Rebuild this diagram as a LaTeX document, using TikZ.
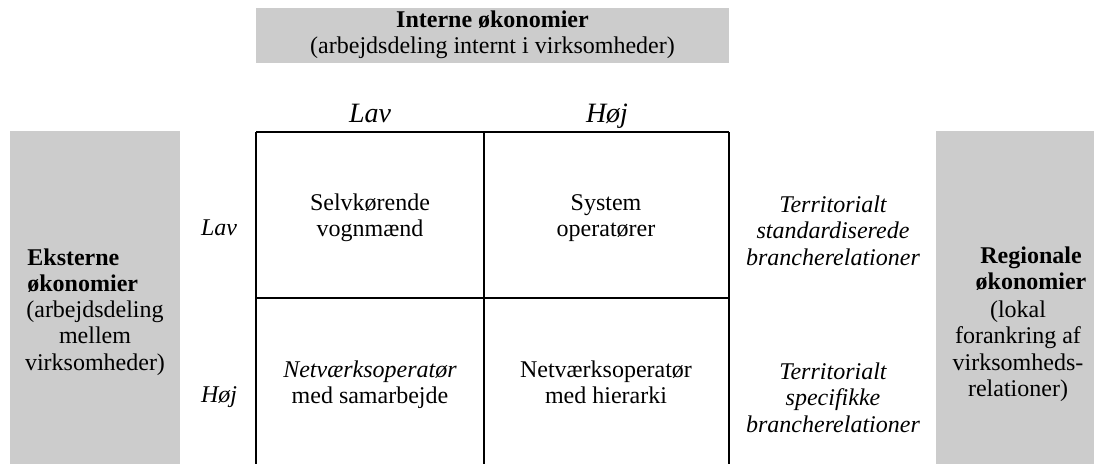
\documentclass[tikz,border=0pt]{standalone}
\usepackage{fontspec}
\setmainfont{Liberation Serif}
\definecolor{panel}{HTML}{CCCCCC}
\begin{document}
\begin{tikzpicture}[x=0.5pt,y=-0.5pt,
  txt/.style={inner sep=0pt, align=center, font=\fontsize{12}{13.2}\selectfont},
  txtl/.style={inner sep=0pt, align=left, font=\fontsize{12}{13.2}\selectfont},
  lbl/.style={inner sep=0pt, anchor=base, font=\fontsize{12}{13.2}\selectfont\itshape},
  head/.style={inner sep=0pt, anchor=base, font=\fontsize{14}{16}\selectfont\itshape},
  gridline/.style={line width=0.55pt, draw=black}]
\useasboundingbox (0,0) rectangle (1094,464);
% gray panels
\fill[panel] (256,8) rectangle (729,63);
\fill[panel] (10,131) rectangle (180,464);
\fill[panel] (936,131) rectangle (1094,464);
% grid
\coordinate (gTL) at (256,132);
\coordinate (gTM) at (484,132);
\coordinate (gTR) at (729,132);
\coordinate (gML) at (256,298);
\coordinate (gMR) at (729,298);
\coordinate (gBL) at (256,464);
\coordinate (gBM) at (484,464);
\coordinate (gBR) at (729,464);
\draw[gridline] (gTL) -- (gTR);
\draw[gridline] (gML) -- (gMR);
\draw[gridline] (gTL) -- (gBL);
\draw[gridline] (gTM) -- (gBM);
\draw[gridline] (gTR) -- (gBR);
% top panel text
\node[txt] (intern) at (492.5,35.5) {\strut\textbf{Interne økonomier}\\\strut(arbejdsdeling internt i virksomheder)};
% column headers
\node[head] (hlav) at (370,123) {Lav};
\node[head] (hhoj) at (607,123) {Høj};
% row labels
\node[lbl] (rlav) at (219,236) {Lav};
\node[lbl] (rhoj) at (219,403) {Høj};
% cells
\node[txt, anchor=north] (c11) at (370,191.5) {\strut Selvkørende\\\strut vognmænd};
\node[txt, anchor=north] (c12) at (606,191.5) {\strut System\\\strut operatører};
\node[txt, anchor=north] (c21) at (370,358.5) {\strut\textit{Netværksoperatør}\\\strut med samarbejde};
\node[txt, anchor=north] (c22) at (606,358.5) {\strut Netværksoperatør\\\strut med hierarki};
% right italic labels
\node[txt, anchor=north, font=\fontsize{12}{13.2}\selectfont\itshape] (t1) at (833,193.5) {\strut Territorialt\\\strut standardiserede\\\strut brancherelationer};
\node[txt, anchor=north, font=\fontsize{12}{13.2}\selectfont\itshape] (t2) at (833,360.5) {\strut Territorialt\\\strut specifikke\\\strut brancherelationer};
% left panel text
\node[txtl, anchor=north west] (ekst) at (27,246.5) {\strut\textbf{Eksterne}\\\strut\textbf{økonomier}};
\node[txt, anchor=north] (ekstsub) at (95,298.5) {\strut(arbejdsdeling\\\strut mellem\\\strut virksomheder)};
% right panel text
\node[txt, anchor=north] (reg) at (1031,244.5) {\strut\textbf{Regionale}\\\strut\textbf{økonomier}};
\node[txt, anchor=north] (regsub) at (1018,298.5) {\strut(lokal\\\strut forankring af\\\strut virksomheds-\\\strut relationer)};
\end{tikzpicture}
\end{document}
